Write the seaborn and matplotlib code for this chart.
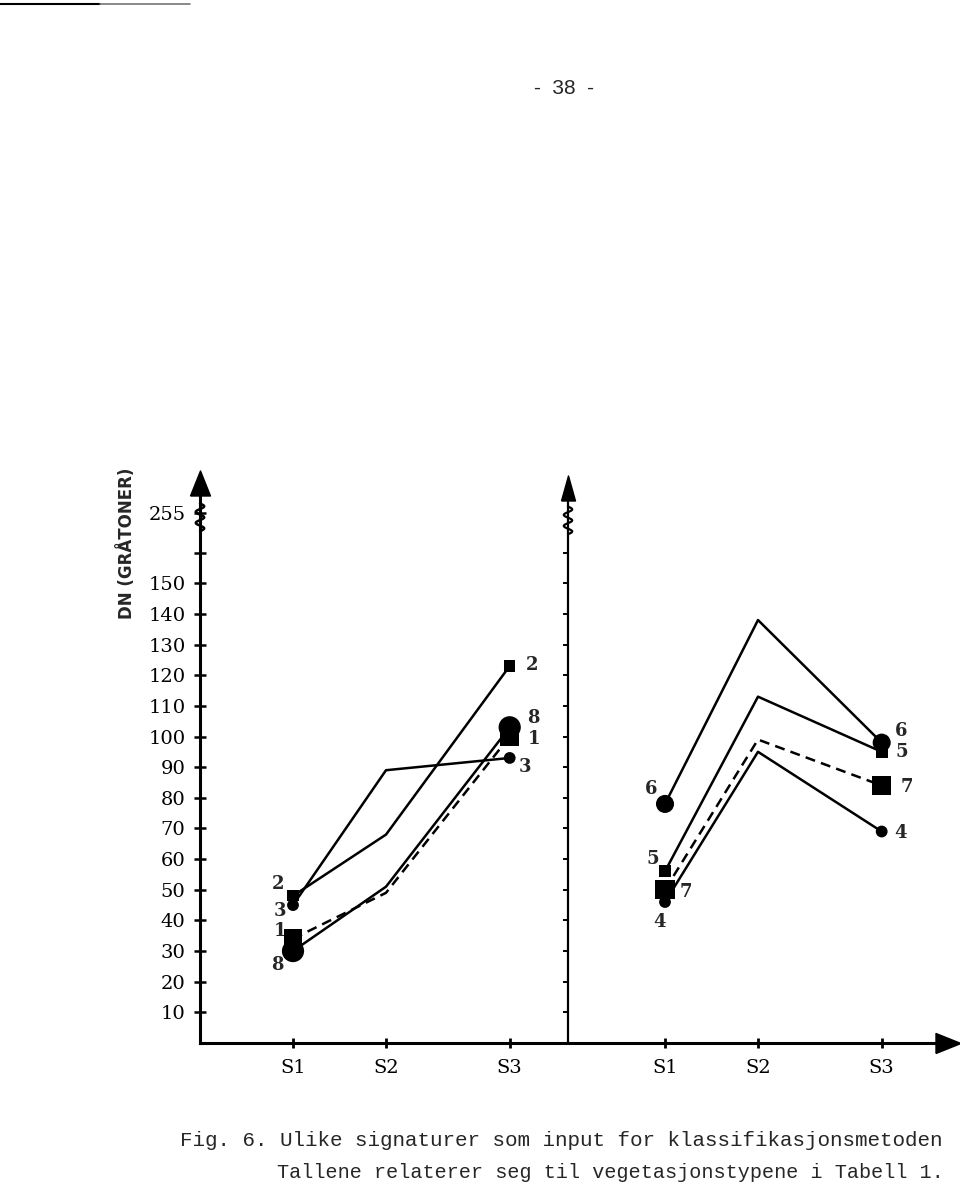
import matplotlib
matplotlib.use("Agg")
import matplotlib.pyplot as plt
import seaborn as sns
import numpy as np
import pandas as pd

# DN values per band (vegetation types from Tabell 1)
bands = ["S1", "S2", "S3"]
left_types = ["1", "2", "3", "8"]
right_types = ["4", "5", "6", "7"]
veg1 = [34, 49, 100]
veg2 = [48, 68, 123]
veg3 = [45, 89, 93]
veg8 = [30, 51, 103]
veg4 = [46, 95, 69]
veg5 = [56, 113, 95]
veg6 = [78, 138, 98]
veg7 = [50, 99, 84]
y_ticks = [10, 20, 30, 40, 50, 60, 70, 80, 90, 100, 110, 120, 130, 140, 150, 160]
y_break_label = "255"

values = {"1": veg1, "2": veg2, "3": veg3, "8": veg8,
          "4": veg4, "5": veg5, "6": veg6, "7": veg7}

# layout: band spacing on the x axis (S1-S2 closer than S2-S3), second panel shifted
band_pos = [1.0, 2.0, 3.33]
panel_shift = {"left": 0.0, "right": 4.0}

rows = []
for panel, types in [("left", left_types), ("right", right_types)]:
    for t in types:
        for b, pos, v in zip(bands, band_pos, values[t]):
            rows.append({"type": t, "band": b, "x": pos + panel_shift[panel], "DN": v})
df = pd.DataFrame(rows)
ends = df[df["band"] != "S2"]

black = {t: "black" for t in values}
dashes = {t: "" for t in values}
dashes["1"] = (4, 2.5)
dashes["7"] = (4, 2.5)
markers = {"1": "s", "2": "s", "3": "o", "8": "o", "4": "o", "5": "s", "6": "o", "7": "s"}
msize = {"1": 13.5, "2": 8, "3": 8.5, "8": 16, "4": 8.5, "5": 8.5, "6": 13, "7": 14}
sizes = {t: m ** 2 for t, m in msize.items()}

# label offsets (pixels) for the numbers beside the end markers
lab_off = {
    ("1", "S1"): (-13, 8), ("2", "S1"): (-15, 12), ("3", "S1"): (-13, -6), ("8", "S1"): (-16, -14),
    ("1", "S3"): (24, -3), ("2", "S3"): (22, 1), ("3", "S3"): (15, -9), ("8", "S3"): (24, 9),
    ("4", "S1"): (-5, -20), ("5", "S1"): (-12, 12), ("6", "S1"): (-14, 15), ("7", "S1"): (21, -2),
    ("4", "S3"): (19, -1), ("5", "S3"): (20, 0), ("6", "S3"): (19, 12), ("7", "S3"): (25, -1),
}

sns.set_theme(style="white")
plt.rcParams["font.family"] = ["DejaVu Serif"]

fig = plt.figure(figsize=(9.6, 11.85), dpi=100)
px_x, px_y = 93.0, 3.065
ax = fig.add_axes([200 / 960, 1 - 1043 / 1185, 760 / 960, (1043 - 470) / 1185])
ax.patch.set_alpha(0)

sns.lineplot(data=df, x="x", y="DN", hue="type", style="type", units="type",
             estimator=None, sort=False, palette=black, dashes=dashes,
             linewidth=1.8, legend=False, ax=ax)
sns.scatterplot(data=ends, x="x", y="DN", hue="type", style="type", size="type",
                palette=black, markers=markers, sizes=sizes, linewidth=0,
                legend=False, ax=ax, zorder=5)

for _, r in ends.iterrows():
    ax.annotate(r["type"], (r["x"], r["DN"]), xytext=lab_off[(r["type"], r["band"])],
                textcoords="offset pixels", ha="center", va="center",
                fontsize=13, fontweight="bold")

xmax = 760 / px_x
ymax = (1043 - 470) / px_y
ax.set_xlim(0, xmax)
ax.set_ylim(0, ymax)

for s in ["top", "right"]:
    ax.spines[s].set_visible(False)
ax.spines["left"].set_bounds(0, 179)
ax.spines["bottom"].set_bounds(0, (938 - 200) / px_x)
for s in ["left", "bottom"]:
    ax.spines[s].set_linewidth(2.2)
    ax.spines[s].set_color("black")

# axis arrowheads
up = [(-0.4, -0.5), (0.4, -0.5), (0, 0.5), (-0.4, -0.5)]
ax.plot([0], [(1043 - 482.5) / px_y], marker=up, ms=18, color="black", clip_on=False)
right_arrow = [(-0.5, -0.4), (-0.5, 0.4), (0.5, 0), (-0.5, -0.4)]
ax.plot([(947.5 - 200) / px_x], [0], marker=right_arrow, ms=18, color="black", clip_on=False)

# separator axis between the two panels
sep_x = (568 - 200) / px_x
ax.vlines(sep_x, 0, 178, color="black", lw=1.6)
thin_up = [(-0.28, -0.5), (0.28, -0.5), (0, 0.5), (-0.28, -0.5)]
ax.plot([sep_x], [(1043 - 487.5) / px_y], marker=thin_up, ms=18, color="black", clip_on=False)
ax.hlines(y_ticks, sep_x - 0.05, sep_x + 0.01, color="black", lw=1.4)

# break squiggles
t = np.linspace(0, 1, 80)
ax.plot(0 + 0.045 * np.sin(t * 2 * np.pi * 2.5), 167 + 9 * t, color="black", lw=1.8, clip_on=False)
ax.plot(sep_x + 0.045 * np.sin(t * 2 * np.pi * 2.5), 166 + 9 * t, color="black", lw=1.6, clip_on=False)

# ticks
ax.set_yticks(y_ticks + [173])
ax.set_yticklabels([str(v) for v in y_ticks[:-1]] + ["", y_break_label])
ax.yaxis.get_major_ticks()[-1].tick1line.set_visible(False)
ax.tick_params(axis="y", direction="inout", length=9, width=1.8, labelsize=14, pad=6,
               left=True, colors="black")
ax.set_xticks([p + panel_shift[k] for k in ["left", "right"] for p in band_pos])
ax.set_xticklabels(bands * 2)
ax.tick_params(axis="x", direction="inout", length=7, width=2, labelsize=14, pad=8,
               bottom=True, colors="black")
ax.set_xlabel("")
ax.set_ylabel("")

fig.text(127 / 960, 1 - 543 / 1185, "DN (GRÅTONER)", rotation=90, ha="center", va="center",
         fontsize=12, fontweight="bold", family=["DejaVu Sans"])

fig.text(564 / 960, 1 - 88 / 1185, "-  38  -", ha="center", va="center",
         fontsize=15, family=["Liberation Sans"])
fig.add_artist(plt.Line2D([0, 100 / 960], [1 - 4 / 1185] * 2, color="black", lw=1.5))
fig.add_artist(plt.Line2D([100 / 960, 190 / 960], [1 - 4 / 1185] * 2, color="#777777", lw=1.2))

fig.text(180 / 960, 1 - 1140 / 1185,
         "Fig. 6. Ulike signaturer som input for klassifikasjonsmetoden",
         ha="left", va="center", fontsize=15, family=["Liberation Mono"])
fig.text(277 / 960, 1 - 1172 / 1185,
         "Tallene relaterer seg til vegetasjonstypene i Tabell 1.",
         ha="left", va="center", fontsize=14.5, family=["Liberation Mono"])

fig.savefig("out.png", dpi=100)
plt.close(fig)
